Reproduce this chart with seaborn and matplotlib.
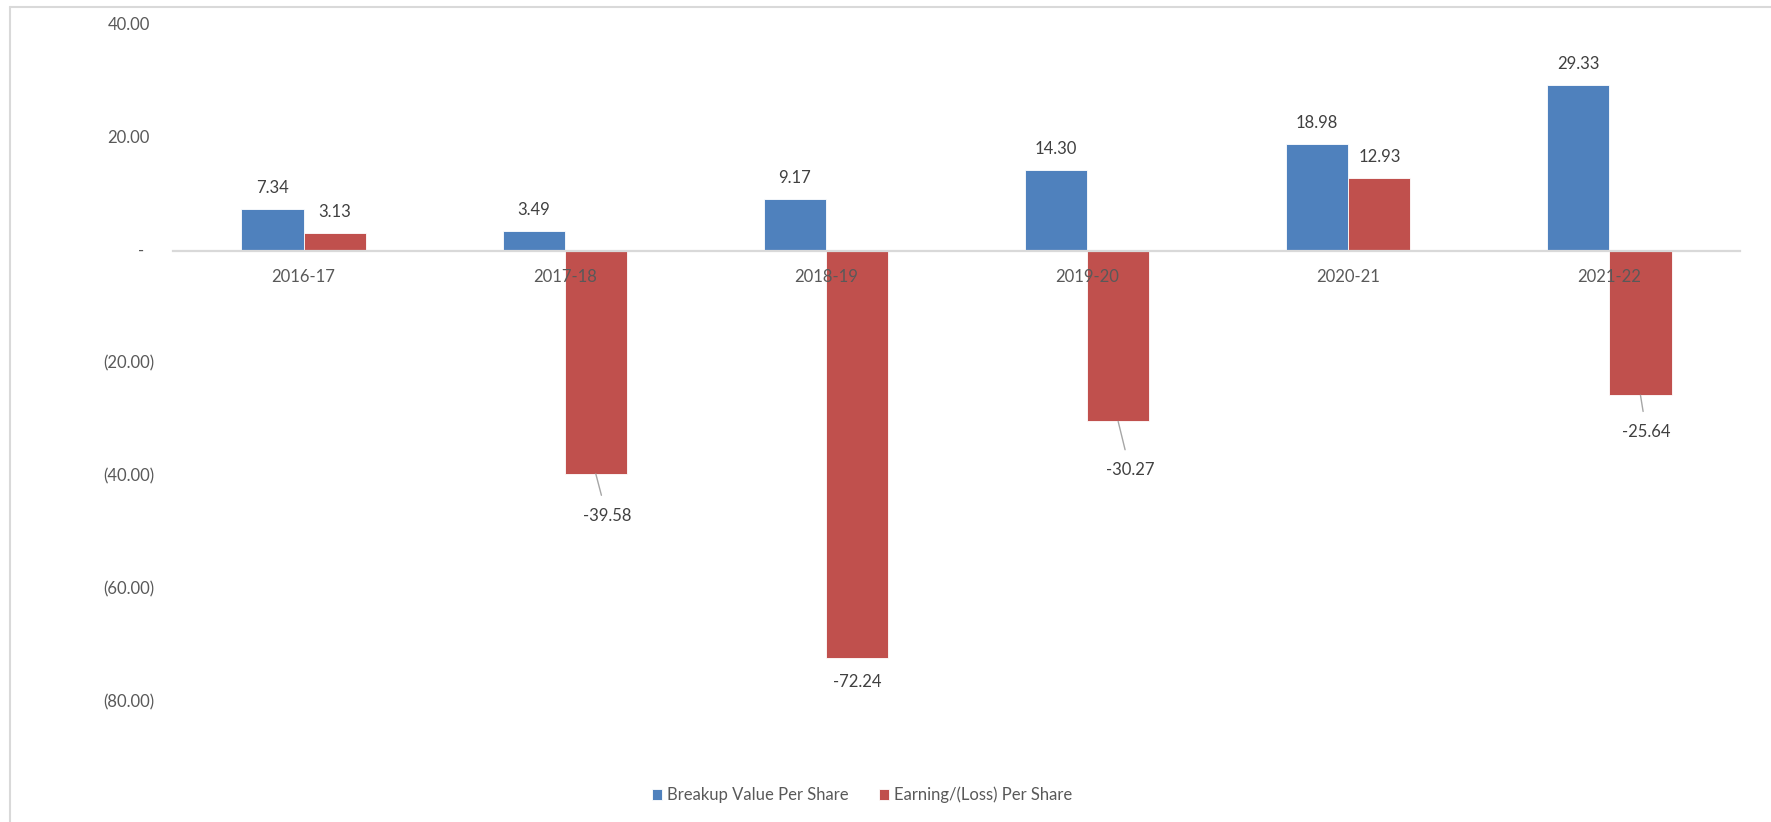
import matplotlib
matplotlib.use("Agg")
import matplotlib.pyplot as plt
import matplotlib.transforms as mtransforms
from matplotlib.lines import Line2D
import pandas as pd
import seaborn as sns

# ---- data ----
years = ["2016-17", "2017-18", "2018-19", "2019-20", "2020-21", "2021-22"]
breakup_value = [7.34, 3.49, 9.17, 14.30, 18.98, 29.33]
earning_per_share = [3.13, -39.58, -72.24, -30.27, 12.93, -25.64]
series_names = ["Breakup Value Per Share", "Earning/(Loss) Per Share"]
y_ticks = [40, 20, 0, -20, -40, -60, -80]
y_tick_labels = ["40.00", "20.00", "-", "(20.00)", "(40.00)", "(60.00)", "(80.00)"]

BLUE = "#4F81BD"
RED = "#C0504D"
GRID = "#D9D9D9"
AXIS_TXT = "#595959"
LABEL_TXT = "#404040"

df = pd.DataFrame({
    "Year": years * 2,
    "Value": breakup_value + earning_per_share,
    "Series": [series_names[0]] * len(years) + [series_names[1]] * len(years),
})

sns.set_theme(style="white")
plt.rcParams["font.family"] = ["Lato", "DejaVu Sans"]

W, H = 1771, 822
fig = plt.figure(figsize=(W / 100, H / 100), dpi=100)
ax = fig.add_axes([173 / W, 1 - 702 / H, (1740 - 173) / W, (702 - 25) / H])

sns.barplot(data=df, x="Year", y="Value", hue="Series", order=years,
            hue_order=series_names, palette=[BLUE, RED], width=0.476, gap=0,
            edgecolor="#FFFFFF", linewidth=0.6, saturation=1, legend=True, ax=ax)

ax.set_xlim(-0.5, len(years) - 0.5)
ax.set_ylim(-80, 40)
ax.set_xlabel("")
ax.set_ylabel("")

# axis styling: only the zero line is drawn, category labels sit on top of bars
for side in ("top", "right", "left"):
    ax.spines[side].set_visible(False)
ax.spines["bottom"].set_position(("data", 0))
ax.spines["bottom"].set_color(GRID)
ax.spines["bottom"].set_linewidth(1.6)
ax.tick_params(axis="x", length=0, pad=13, labelsize=12, labelcolor=AXIS_TXT)
ax.tick_params(axis="y", length=0, labelleft=False)
ax.xaxis.set_zorder(5)

# y tick labels in accounting style (negative in parentheses)
for val, txt in zip(y_ticks, y_tick_labels):
    tr = mtransforms.blended_transform_factory(ax.transAxes, ax.transData)
    if txt == "-":
        off = mtransforms.ScaledTranslation(-32 / 100, 0, fig.dpi_scale_trans)
        ax.text(0, val, txt, transform=tr + off, ha="center", va="center",
                fontsize=12, color=AXIS_TXT)
    else:
        dx = -19 if txt.startswith("(") else -23
        off = mtransforms.ScaledTranslation(dx / 100, 0, fig.dpi_scale_trans)
        ax.text(0, val, txt, transform=tr + off, ha="right", va="center",
                fontsize=12, color=AXIS_TXT)

# data labels; negative labels sit below the bar with a leader line
neg_offsets = {-39.58: (11, 42), -72.24: (0, 24), -30.27: (12, 49), -25.64: (6, 37)}
for container in ax.containers:
    for bar in container:
        h = bar.get_height()
        x = bar.get_x() + bar.get_width() / 2
        if h >= 0:
            ax.annotate(f"{h:.2f}", xy=(x, h), xytext=(0, 21),
                        textcoords="offset pixels", ha="center", va="center",
                        fontsize=12, color=LABEL_TXT)
        else:
            key = round(h, 2)
            dx, dy = neg_offsets.get(key, (0, 24))
            arrow = None
            if dy > 30:
                arrow = dict(arrowstyle="-", color="#A6A6A6", lw=1,
                             shrinkA=7, shrinkB=0)
            ax.annotate(f"{h:.2f}", xy=(x, h), xytext=(dx, -dy),
                        textcoords="offset pixels", ha="center", va="center",
                        fontsize=12, color=LABEL_TXT, arrowprops=arrow)

# legend at the bottom
handles, labels = ax.get_legend_handles_labels()
ax.get_legend().remove()
fig.legend(handles, labels, loc="center", bbox_to_anchor=(862 / W, 1 - 795 / H),
           ncol=2, frameon=False, fontsize=12, labelcolor=AXIS_TXT,
           handlelength=0.6, handleheight=0.6, handletextpad=0.3,
           columnspacing=1.8)

# chart-area border
fig.add_artist(Line2D([10 / W, 10 / W], [0, 1 - 7 / H], transform=fig.transFigure,
                      color=GRID, lw=1.5))
fig.add_artist(Line2D([10 / W, 1], [1 - 7 / H, 1 - 7 / H], transform=fig.transFigure,
                      color=GRID, lw=1.5))

fig.savefig("out.png", dpi=100, facecolor="white")
